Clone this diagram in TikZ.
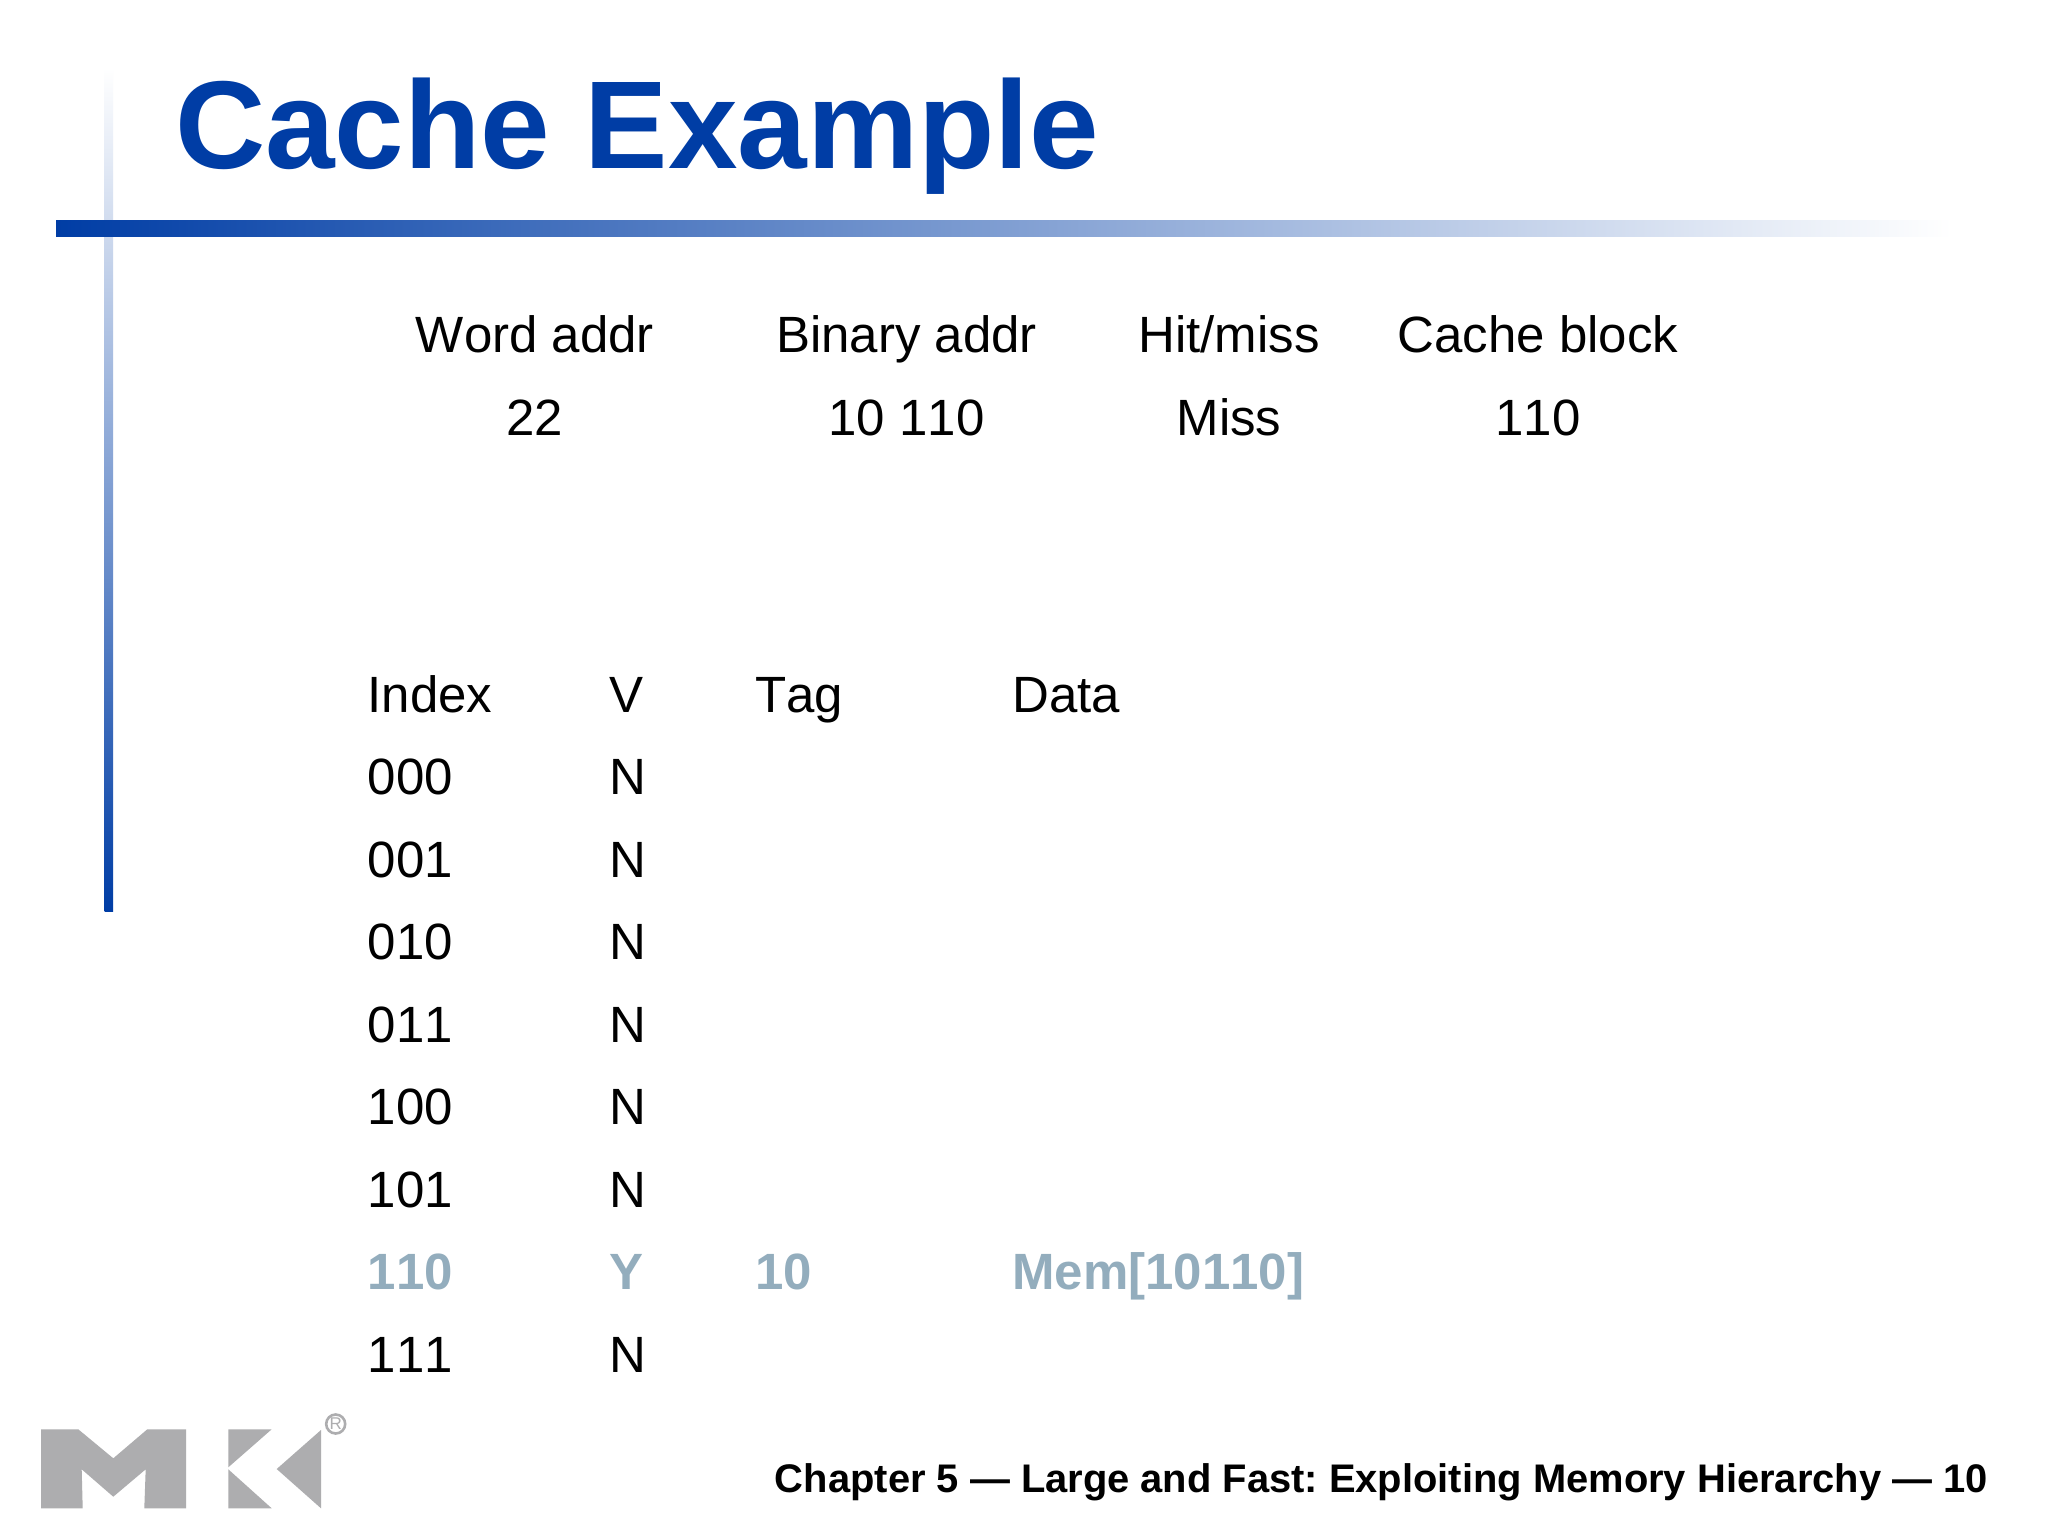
\documentclass[tikz,border=0pt]{standalone}
\usepackage{fontspec}
\setmainfont[Kerning=Off]{Liberation Sans}
\definecolor{slideblue}{HTML}{003DA5}
\definecolor{hilite}{HTML}{93ADBD}
\definecolor{logogrey}{HTML}{ADADAF}
\tikzset{
  body/.style={inner sep=0pt,font=\fontsize{51}{60}\selectfont,text=black},
  cell/.style={body,anchor=base west},
  ctr/.style={body,anchor=base},
  hot/.style={cell,font=\fontsize{51}{60}\selectfont\bfseries,text=hilite},
  logo/.style={fill=logogrey,draw=none}
}
\begin{document}
\frenchspacing
\begin{tikzpicture}[x=1pt,y=-1pt]
\useasboundingbox (0,0) rectangle (2048,1536);
\fill[white] (0,0) rectangle (2048,1536);
% rules
\shade[top color=white,bottom color=slideblue,draw=none] (104.5,68) rectangle (113,911);
\shade[left color=slideblue,right color=white,draw=none] (56,220) rectangle (1952,236);
% title
\node[inner sep=0pt,anchor=base west,font=\fontsize{125}{130}\selectfont\bfseries,text=slideblue] (title) at (175,168) {Cache Example};
% header table
\node[ctr] (h1) at (535,352.5) {Word addr};
\node[ctr] (h2) at (906.5,352.5) {Binary addr};
\node[ctr] (h3) at (1229,352.5) {Hit/miss};
\node[ctr] (h4) at (1538,352.5) {Cache block};
\node[ctr] (r1) at (535,435) {22};
\node[ctr] (r2) at (906.5,435) {10 110};
\node[ctr] (r3) at (1229,435) {Miss};
\node[ctr] (r4) at (1538,435) {110};
% cache table
\node[cell] (ti) at (367.5,712) {Index};
\node[cell] (tv) at (609,712) {V};
\node[cell] (tt) at (755,712) {Tag};
\node[cell] (td) at (1012,712) {Data};
\node[cell] (i0) at (367.5,794.5) {000};
\node[cell] (v0) at (609,794.5) {N};
\node[cell] (i1) at (367.5,877) {001};
\node[cell] (v1) at (609,877) {N};
\node[cell] (i2) at (367.5,959.5) {010};
\node[cell] (v2) at (609,959.5) {N};
\node[cell] (i3) at (367.5,1042) {011};
\node[cell] (v3) at (609,1042) {N};
\node[cell] (i4) at (367.5,1124.5) {100};
\node[cell] (v4) at (609,1124.5) {N};
\node[cell] (i5) at (367.5,1207) {101};
\node[cell] (v5) at (609,1207) {N};
\node[hot] (i6) at (367.5,1289.5) {110};
\node[hot] (v6) at (609,1289.5) {Y};
\node[hot] (t6) at (755,1289.5) {10};
\node[hot] (d6) at (1012,1289.5) {Mem[10110]};
\node[cell] (i7) at (367.5,1372) {111};
\node[cell] (v7) at (609,1372) {N};
% footer
\node[inner sep=0pt,anchor=base east,font=\fontsize{39.9}{48}\selectfont\bfseries,text=black] (foot) at (1988,1492) {Chapter 5 — Large and Fast: Exploiting Memory Hierarchy — 10};
% logo
\fill[logo] (41,1429.3) -- (78.3,1429.3) -- (113.3,1458.3) -- (147.3,1429.3) -- (186,1429.3) -- (186,1508.3) -- (144.3,1508.3) -- (145.7,1469.3) -- (113.3,1496.7) -- (81.7,1469.3) -- (82.7,1508.3) -- (41,1508.3) -- cycle;
\fill[logo] (228.3,1429.3) -- (271.7,1429.3) -- (228.3,1467.3) -- cycle;
\fill[logo] (228.3,1469.3) -- (271.7,1508.3) -- (228.3,1508.3) -- cycle;
\fill[logo] (321,1430) -- (276.7,1469) -- (321,1508.3) -- cycle;
\node[circle,draw=logogrey,line width=2.6pt,minimum size=19pt,inner sep=0pt,text=logogrey,font=\fontsize{17}{18}\selectfont] (reg) at (335.7,1424) {R};
\end{tikzpicture}
\end{document}
